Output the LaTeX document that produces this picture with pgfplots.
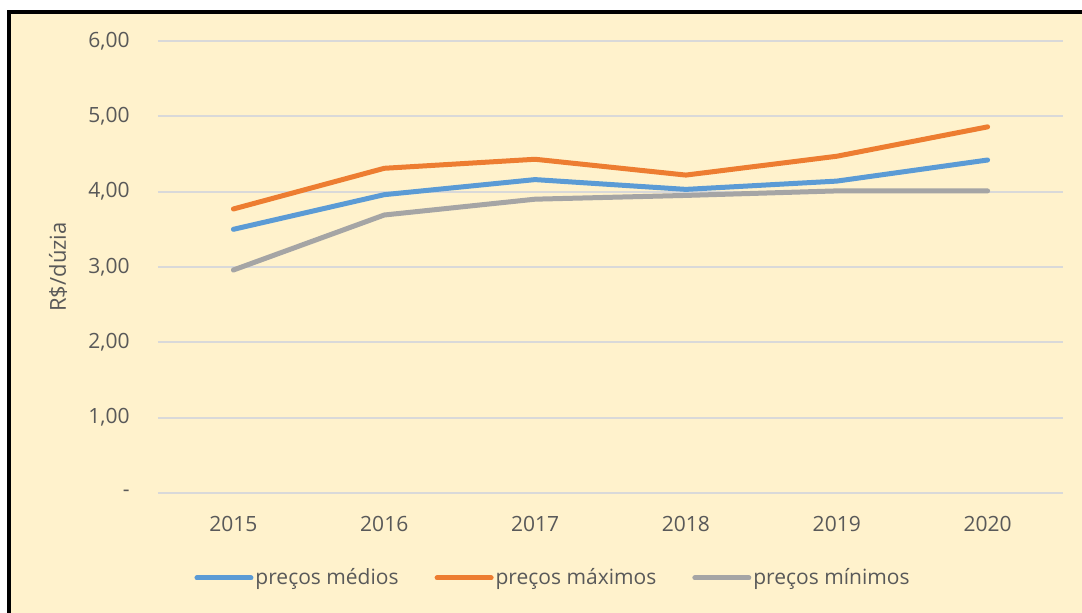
\documentclass[border=0pt]{standalone}
\usepackage{pgfplots}
\pgfplotsset{compat=1.18}
\usepackage{fontspec}
\setmainfont{Open Sans}
\definecolor{bgy}{HTML}{FFF2CC}
\definecolor{cblue}{HTML}{5B9BD5}
\definecolor{corange}{HTML}{ED7D31}
\definecolor{cgray}{HTML}{A5A5A5}
\definecolor{gridc}{HTML}{D9D9D9}
\definecolor{txt}{HTML}{595959}
\begin{document}
\begin{tikzpicture}
\path[use as bounding box] (0,0) rectangle (541pt,306.5pt);
\fill[white] (0,0) rectangle (541pt,306.5pt);
\fill[bgy] (4.5pt,0) rectangle (541pt,300.25pt);
\draw[black, line width=2pt] (4.5pt,0) -- (4.5pt,300.25pt) -- (541pt,300.25pt);
\begin{axis}[
  at={(79pt,60pt)}, anchor=south west,
  scale only axis, width=452.5pt, height=226pt,
  xmin=-0.5, xmax=5.5, ymin=0, ymax=6,
  axis line style={draw=none},
  xtick={0,1,2,3,4,5},
  xticklabels={2015,2016,2017,2018,2019,2020},
  ytick={0,1,2,3,4,5,6},
  yticklabels={{-\hspace{5.5pt}},{1,00},{2,00},{3,00},{4,00},{5,00},{6,00}},
  major tick length=0pt,
  ymajorgrids, grid style={gridc, line width=1pt},
  tick label style={font=\fontsize{10.5}{12}\selectfont, text=txt, inner sep=0pt},
  xticklabel style={anchor=center, yshift=-15.5pt},
  yticklabel style={anchor=east, xshift=-14pt},
  ylabel={R\$/dúzia},
  ylabel style={font=\fontsize{11}{13}\selectfont, text=txt, anchor=center, at={(axis description cs:-0.1105,0.5)}},
  legend columns=3,
  legend style={draw=none, fill=none, at={(axis description cs:0.4365,-0.188)}, anchor=center,
    font=\fontsize{10.5}{12}\selectfont, text=txt,
    /tikz/every even column/.append style={column sep=17pt},
    nodes={inner sep=1pt}},
  legend cell align=left,
  legend image code/.code={\draw[#1, line width=2.5pt, line cap=round] (0pt,0pt) -- (27pt,0pt);},
  every axis plot/.append style={line width=2.5pt, line cap=round, line join=round, mark=none},
  clip=false,
]
\addplot[cblue] coordinates {(0,3.50) (1,3.96) (2,4.16) (3,4.03) (4,4.14) (5,4.42)};
\addlegendentry{preços médios}
\addplot[corange] coordinates {(0,3.77) (1,4.31) (2,4.43) (3,4.22) (4,4.47) (5,4.86)};
\addlegendentry{preços máximos}
\addplot[cgray] coordinates {(0,2.96) (1,3.69) (2,3.90) (3,3.95) (4,4.01) (5,4.01)};
\addlegendentry{preços mínimos}
\end{axis}
\end{tikzpicture}
\end{document}
